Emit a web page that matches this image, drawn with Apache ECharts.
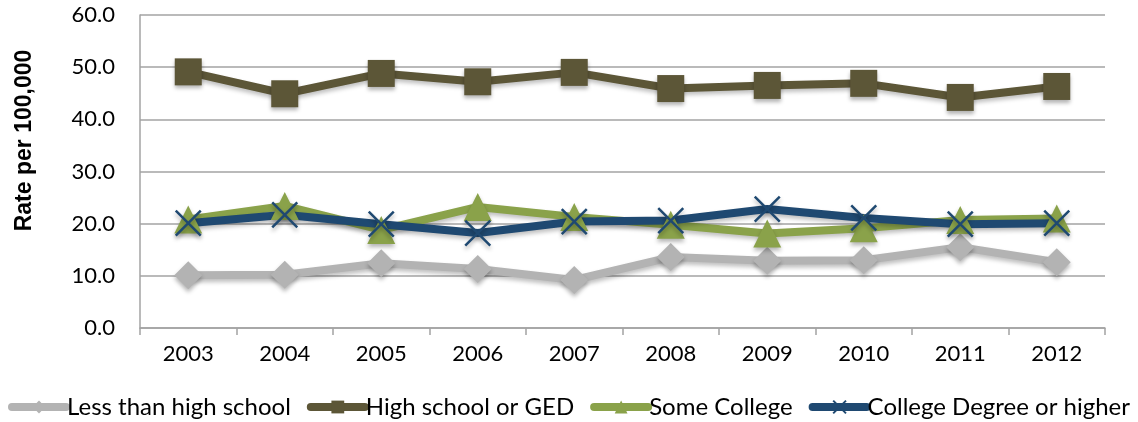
<!DOCTYPE html>
<html>
<head>
<meta charset="utf-8">
<script src="https://cdn.jsdelivr.net/npm/echarts@6/dist/echarts.min.js"></script>
<style>
  html, body { margin: 0; padding: 0; background: #fff; }
  #chart { width: 1138px; height: 422px; }
</style>
</head>
<body>
<div id="chart"></div>
<script>
const years = ['2003', '2004', '2005', '2006', '2007', '2008', '2009', '2010', '2011', '2012'];
const lessThanHighSchool = [10.1, 10.2, 12.4, 11.3, 9.2, 13.6, 12.9, 13.0, 15.5, 12.6];
const highSchoolOrGed = [49.1, 44.9, 48.8, 47.2, 49.0, 45.9, 46.5, 46.9, 44.2, 46.3];
const someCollege = [20.8, 23.4, 18.8, 23.2, 21.3, 19.8, 18.1, 19.1, 20.7, 21.0];
const collegeDegree = [20.1, 21.7, 19.9, 18.2, 20.4, 20.6, 22.8, 21.1, 19.9, 20.1];

const chart = echarts.init(document.getElementById('chart'));

const labelFont = 'Lato, "Open Sans", sans-serif';
const gridColor = '#A3A3A3';

const makeSeries = (name, data, color, symbol, size, extra) => ({
  name: name,
  type: 'line',
  data: data,
  symbol: symbol,
  symbolSize: size,
  lineStyle: {
    color: color,
    width: 8,
    shadowColor: 'rgba(0,0,0,0.25)',
    shadowBlur: 4,
    shadowOffsetY: 3
  },
  itemStyle: Object.assign({
    color: color,
    shadowColor: 'rgba(0,0,0,0.3)',
    shadowBlur: 4,
    shadowOffsetY: 3
  }, extra || {}),
  animation: false
});

const option = {
  grid: { left: 140, right: 33, top: 15, bottom: 94 },
  legend: {
    bottom: -2,
    left: 'center',
    itemWidth: 54,
    itemHeight: 16,
    itemGap: 16,
    lineStyle: { width: 8, cap: 'round', shadowBlur: 0, shadowOffsetY: 0 },
    itemStyle: { shadowBlur: 0, shadowOffsetY: 0 },
    textStyle: { fontSize: 24, fontFamily: labelFont, color: '#000', padding: [0, 0, 0, -4] },
    data: ['Less than high school', 'High school or GED', 'Some College', 'College Degree or higher']
  },
  xAxis: {
    type: 'category',
    data: years,
    boundaryGap: true,
    axisLine: { lineStyle: { color: gridColor, width: 1.5 } },
    axisTick: { show: true, length: 7, lineStyle: { color: gridColor, width: 1.5 } },
    axisLabel: { fontSize: 22, fontFamily: labelFont, color: '#000', margin: 15 }
  },
  yAxis: {
    type: 'value',
    min: 0,
    max: 60,
    interval: 10,
    name: 'Rate per 100,000',
    nameLocation: 'middle',
    nameGap: 104,
    nameTextStyle: {
      fontSize: 23, fontWeight: 'bold', fontFamily: '"Liberation Sans", Arial, sans-serif', color: '#000',
      padding: [0, 0, 0, 62]
    },
    axisLine: { show: true, lineStyle: { color: gridColor, width: 1.5 } },
    axisTick: { show: false },
    splitLine: { lineStyle: { color: gridColor, width: 1.5 } },
    axisLabel: {
      fontSize: 22, fontFamily: labelFont, color: '#000', margin: 25,
      formatter: (v) => v.toFixed(1)
    }
  },
  series: [
    makeSeries('Less than high school', lessThanHighSchool, '#B3B3B3', 'diamond', 28),
    makeSeries('High school or GED', highSchoolOrGed, '#5C5637', 'rect', 27),
    makeSeries('Some College', someCollege, '#8AA24A', 'triangle', 28),
    makeSeries('College Degree or higher', collegeDegree, '#1F4971', 'path://M0,0L10,10M10,0L0,10', 25,
      { borderColor: '#1F4971', borderWidth: 2.5 })
  ]
};

chart.setOption(option);
</script>
</body>
</html>
